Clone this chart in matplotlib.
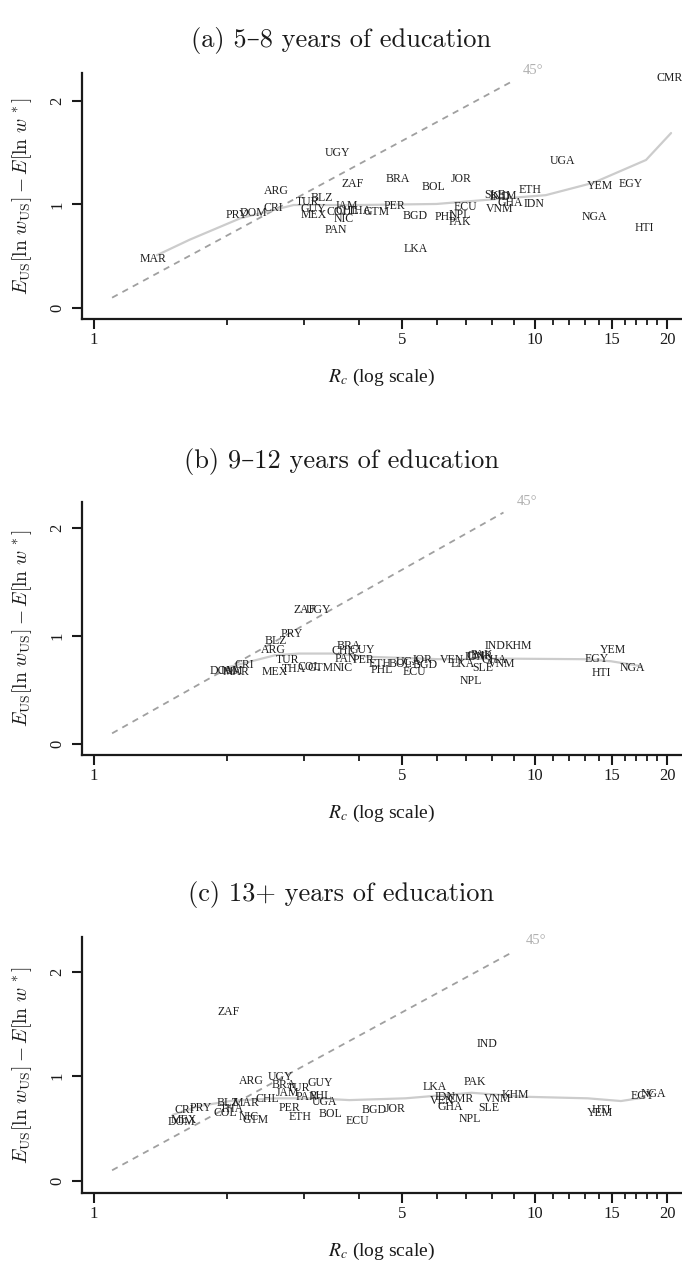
import matplotlib
matplotlib.use("Agg")
import matplotlib.pyplot as plt
from matplotlib.ticker import FixedLocator, NullFormatter

# ---------------- data ----------------
# (a) 5-8 years of education
codes_a = ["MAR", "PRY", "DOM", "CRI", "ARG", "TUR", "BLZ", "GUY", "MEX", "JAM",
           "COL", "CHL", "THA", "GTM", "NIC", "PAN", "UGY", "ZAF", "BRA", "BOL",
           "JOR", "PER", "BGD", "LKA", "ECU", "PHL", "NPL", "PAK", "SLE", "KHM",
           "IND", "GHA", "ETH", "IDN", "VNM", "UGA", "YEM", "EGY", "NGA", "HTI", "CMR"]
rc_a = [1.36, 2.11, 2.30, 2.55, 2.60, 3.06, 3.29, 3.15, 3.16, 3.75,
        3.58, 3.75, 4.01, 4.38, 3.68, 3.54, 3.58, 3.86, 4.90, 5.91,
        6.83, 4.82, 5.35, 5.38, 6.98, 6.29, 6.77, 6.77, 8.12, 8.48,
        8.35, 8.79, 9.75, 9.96, 8.31, 11.54, 14.1, 16.5, 13.7, 17.7, 20.3]
gap_a = [0.47, 0.90, 0.915, 0.963, 1.13, 1.027, 1.066, 0.953, 0.90, 0.988,
         0.93, 0.937, 0.937, 0.93, 0.857, 0.754, 1.495, 1.198, 1.243, 1.166,
         1.243, 0.985, 0.889, 0.567, 0.979, 0.876, 0.90, 0.834, 1.09, 1.08,
         1.07, 1.017, 1.14, 1.005, 0.953, 1.42, 1.179, 1.198, 0.882, 0.77, 2.22]
smooth_rc_a = [1.39, 1.65, 2.15, 2.84, 4.01, 5.99, 8.05, 10.6, 13.6, 17.9, 20.4]
smooth_gap_a = [0.51, 0.66, 0.867, 0.995, 0.995, 1.005, 1.05, 1.09, 1.21, 1.43, 1.69]

# (b) 9-12 years of education
codes_b = ["ZAF", "UGY", "PRY", "BLZ", "ARG", "TUR", "MEX", "THA", "COL", "GTM",
           "CRI", "DOM", "JAM", "MAR", "BRA", "GUY", "CHL", "PER", "PAN", "NIC",
           "PHL", "ETH", "BOL", "UGA", "JOR", "BGD", "ECU", "VEN", "LKA", "IDN",
           "PAK", "CMR", "GHA", "VNM", "SLE", "NPL", "IND", "KHM", "YEM", "EGY",
           "HTI", "NGA"]
rc_b = [3.00, 3.24, 2.82, 2.59, 2.56, 2.75, 2.57, 2.85, 3.08, 3.27,
        2.19, 1.97, 2.05, 2.10, 3.79, 4.06, 3.69, 4.10, 3.73, 3.66,
        4.49, 4.47, 4.96, 5.18, 5.55, 5.64, 5.34, 6.49, 6.86, 7.33,
        7.60, 7.50, 8.11, 8.42, 7.62, 7.18, 8.13, 9.19, 15.06, 13.8,
        14.2, 16.7]
gap_b = [1.244, 1.244, 1.016, 0.951, 0.868, 0.782, 0.665, 0.69, 0.714, 0.702,
         0.727, 0.675, 0.672, 0.67, 0.905, 0.868, 0.859, 0.782, 0.785, 0.70,
         0.683, 0.736, 0.736, 0.76, 0.776, 0.73, 0.668, 0.782, 0.736, 0.806,
         0.822, 0.81, 0.776, 0.745, 0.70, 0.582, 0.905, 0.908, 0.874, 0.785,
         0.658, 0.705]
smooth_rc_b = [2.03, 2.58, 2.92, 3.47, 4.28, 6.06, 8.6, 13.0, 14.9, 17.5]
smooth_gap_b = [0.714, 0.822, 0.837, 0.837, 0.806, 0.785, 0.79, 0.785, 0.766, 0.72]

# (c) 13+ years of education
codes_c = ["ZAF", "ARG", "UGY", "BRA", "JAM", "TUR", "GUY", "PAN", "PHL", "UGA",
           "CHL", "PER", "ETH", "BOL", "BLZ", "MAR", "THA", "COL", "NIC", "GTM",
           "CRI", "PRY", "MEX", "DOM", "ECU", "BGD", "JOR", "LKA", "IDN", "VEN",
           "CMR", "GHA", "PAK", "IND", "NPL", "SLE", "VNM", "KHM", "HTI", "YEM",
           "EGY", "NGA"]
rc_c = [2.02, 2.28, 2.65, 2.70, 2.75, 2.92, 3.27, 3.05, 3.27, 3.33,
        2.48, 2.78, 2.93, 3.44, 2.01, 2.21, 2.06, 1.99, 2.25, 2.33,
        1.60, 1.75, 1.60, 1.58, 3.96, 4.32, 4.83, 5.95, 6.27, 6.17,
        6.78, 6.44, 7.33, 7.79, 7.11, 7.88, 8.25, 9.06, 14.2, 14.1,
        17.6, 18.6]
gap_c = [1.61, 0.955, 0.993, 0.914, 0.841, 0.883, 0.936, 0.803, 0.81, 0.755,
         0.778, 0.692, 0.607, 0.635, 0.746, 0.746, 0.683, 0.65, 0.612, 0.58,
         0.676, 0.70, 0.58, 0.565, 0.574, 0.676, 0.686, 0.892, 0.797, 0.765,
         0.778, 0.708, 0.94, 1.305, 0.588, 0.692, 0.778, 0.819, 0.676, 0.645,
         0.81, 0.829]
smooth_rc_c = [1.51, 1.73, 2.06, 2.59, 3.18, 3.8, 5.09, 7.2, 9.5, 13.2, 15.7, 17.8]
smooth_gap_c = [0.63, 0.714, 0.765, 0.788, 0.788, 0.771, 0.788, 0.841, 0.803, 0.788, 0.762, 0.797]

# 45 degree reference line end points and label spot
diag_rc = {"a": [1.1, 8.9], "b": [1.1, 8.5], "c": [1.1, 8.95]}
diag_gap = {"a": [0.10, 2.19], "b": [0.10, 2.14], "c": [0.10, 2.19]}
diag_lab = {"a": (9.9, 2.29), "b": (9.6, 2.24), "c": (10.1, 2.295)}

titles = ["(a) 5\u20138 years of education",
          "(b) 9\u201312 years of education",
          "(c) 13+ years of education"]
xticks_major = [1, 5, 10, 15, 20]
xticks_minor = [2, 3, 4, 6, 7, 8, 9, 11, 12, 13, 14, 16, 17, 18, 19]

# ---------------- layout (pixels, top-origin) ----------------
W, H = 682, 1264
panels = [
    dict(key="a", codes=codes_a, rc=rc_a, gap=gap_a, srx=smooth_rc_a, sry=smooth_gap_a,
         top=73, bottom=319, ylim=(-0.106, 2.27), title_y=40),
    dict(key="b", codes=codes_b, rc=rc_b, gap=gap_b, srx=smooth_rc_b, sry=smooth_gap_b,
         top=502, bottom=755, ylim=(-0.10, 2.237), title_y=461),
    dict(key="c", codes=codes_c, rc=rc_c, gap=gap_c, srx=smooth_rc_c, sry=smooth_gap_c,
         top=937, bottom=1193, ylim=(-0.117, 2.33), title_y=894),
]

serif = ["Liberation Serif", "DejaVu Serif"]
plt.rcParams["font.family"] = serif
plt.rcParams["mathtext.fontset"] = "stix"

fig = plt.figure(figsize=(W / 100, H / 100), dpi=100)
left_px = 82
ink = "#1a1a1a"

for p, title in zip(panels, titles):
    hpx = p["bottom"] - p["top"]
    ax = fig.add_axes([left_px / W, 1 - p["bottom"] / H, (W - left_px) / W, hpx / H])
    ax.set_xscale("log")
    ax.set_xlim(0.94, 21.6)
    ax.set_ylim(*p["ylim"])

    # 45 degree line
    k = p["key"]
    ax.plot(diag_rc[k], diag_gap[k], color="#a0a0a0", lw=1.3, ls=(0, (3.5, 3)))
    ax.text(diag_lab[k][0], diag_lab[k][1], "45\u00b0", color="#b0b0b0",
            fontsize=10.5, ha="center", va="center")

    # smoothed fit
    ax.plot(p["srx"], p["sry"], color="#cccccc", lw=1.6, solid_capstyle="round")

    # country codes
    for c, x, y in zip(p["codes"], p["rc"], p["gap"]):
        ax.text(x, y, c, fontsize=8.5, color="#1e1e1e", ha="center", va="center")

    # axes styling
    for s in ["top", "right"]:
        ax.spines[s].set_visible(False)
    for s in ["left", "bottom"]:
        ax.spines[s].set_linewidth(1.6)
        ax.spines[s].set_color(ink)

    ax.xaxis.set_major_locator(FixedLocator(xticks_major))
    ax.xaxis.set_minor_locator(FixedLocator(xticks_minor))
    ax.set_xticklabels([str(t) for t in xticks_major])
    ax.xaxis.set_minor_formatter(NullFormatter())
    ax.set_yticks([0, 1, 2])
    ax.set_yticklabels(["0", "1", "2"], rotation=90, va="center")

    ax.tick_params(axis="both", which="major", length=7, width=1.5,
                   labelsize=12, color=ink, labelcolor=ink)
    ax.tick_params(axis="x", which="major", pad=2.5)
    ax.tick_params(axis="y", which="major", pad=5)
    ax.tick_params(axis="x", which="minor", length=4.5, width=1.3, color=ink)

    ax.set_xlabel(r"$R_c$ (log scale)", fontsize=14, color=ink)
    ax.xaxis.set_label_coords(0.5, -48 / hpx)
    ax.set_ylabel(r"$E_{\mathrm{US}}[\ln\, w_{\mathrm{US}}] - E[\ln\, w\,^*]$",
                  fontsize=14, color=ink, math_fontfamily="cm")
    ax.yaxis.set_label_coords(-(left_px - 34) / (W - left_px), 0.5)

    fig.text(0.5, 1 - p["title_y"] / H, title, ha="center", va="center",
             fontsize=19, color=ink, family=["cmr10", "DejaVu Serif"])

fig.savefig("out.png", dpi=100)
